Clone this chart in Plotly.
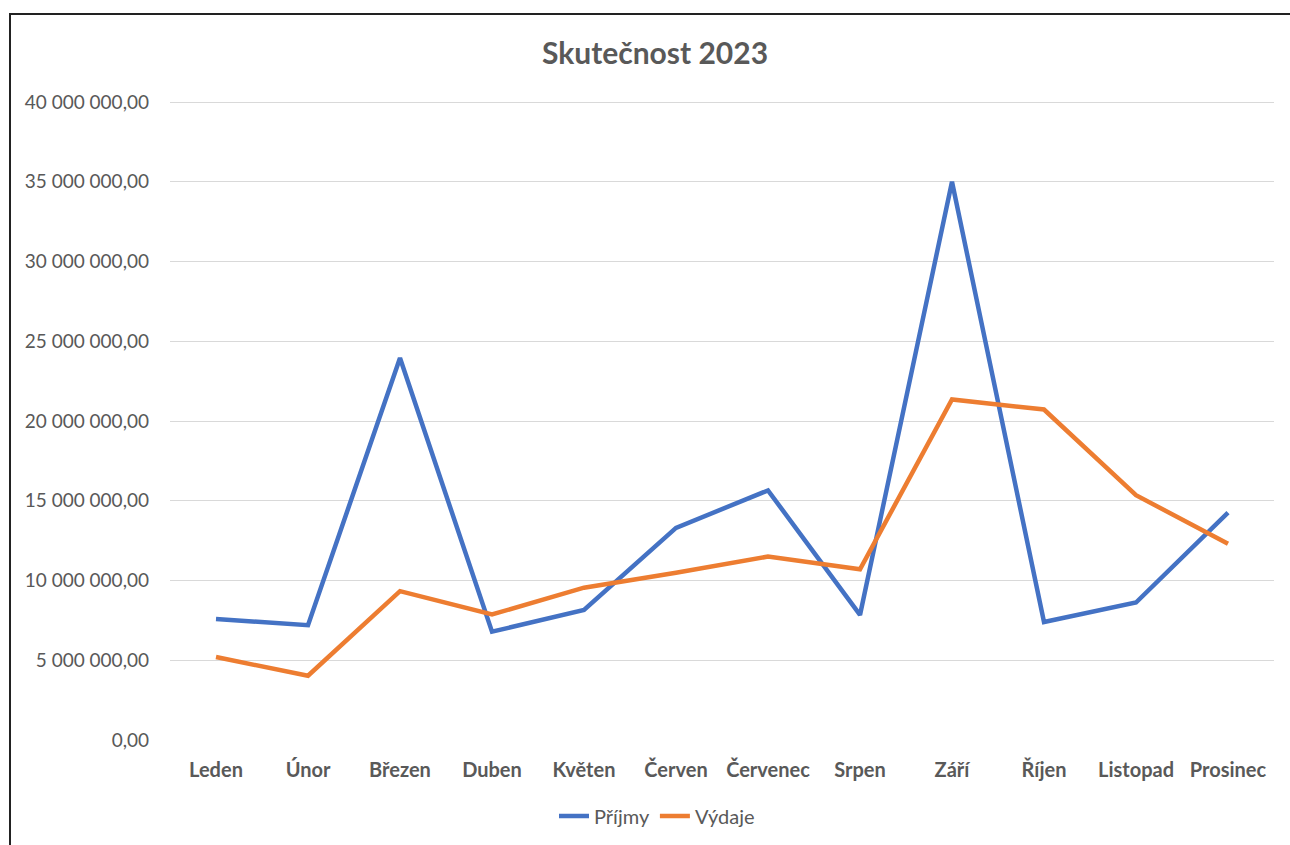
import plotly.graph_objects as go

months = ["Leden", "Únor", "Březen", "Duben", "Květen", "Červen", "Červenec",
          "Srpen", "Září", "Říjen", "Listopad", "Prosinec"]
prijmy = [7.58e6, 7.2e6, 23.95e6, 6.79e6, 8.15e6, 13.3e6, 15.65e6,
          7.84e6, 35.0e6, 7.4e6, 8.62e6, 14.25e6]
vydaje = [5.2e6, 4.03e6, 9.33e6, 7.87e6, 9.55e6, 10.48e6, 11.5e6,
          10.7e6, 21.35e6, 20.72e6, 15.35e6, 12.3e6]
y_ticks = [0, 5e6, 10e6, 15e6, 20e6, 25e6, 30e6, 35e6, 40e6]

W, H = 1290, 845
L, R, T, B = 170, 16, 100, 105
pw, ph = W - L - R, H - T - B

FONT = "Lato"
GRAY = "#595959"

fig = go.Figure()
fig.add_trace(go.Scatter(x=months, y=prijmy, mode="lines", name="Příjmy",
                         line=dict(color="#4472C4", width=4.5)))
fig.add_trace(go.Scatter(x=months, y=vydaje, mode="lines", name="Výdaje",
                         line=dict(color="#ED7D31", width=4.5)))

def px_x(p):
    return (p - L) / pw

def px_y(p):
    return (H - B - p) / ph

fig.add_shape(type="rect", xref="paper", yref="paper",
              x0=px_x(10), x1=px_x(1300), y0=px_y(860), y1=px_y(14),
              line=dict(color="#222222", width=2), fillcolor="rgba(0,0,0,0)")

fig.update_layout(
    width=W, height=H,
    margin=dict(l=L, r=R, t=T, b=B, autoexpand=False),
    paper_bgcolor="white", plot_bgcolor="white",
    separators=", ",
    font=dict(family=FONT, color=GRAY, size=19),
    title=dict(text="<b>Skutečnost 2023</b>", x=655 / W, xanchor="center",
               y=1 - 53 / H, yanchor="middle",
               font=dict(family=FONT, size=30, color=GRAY)),
    showlegend=True,
    legend=dict(orientation="h", x=657 / W, xanchor="center", xref="container",
                y=1 - 816 / H, yanchor="middle", yref="container",
                font=dict(family=FONT, size=20, color=GRAY),
                itemwidth=30, traceorder="normal"),
    xaxis=dict(showgrid=False, zeroline=False, showline=False,
               ticks="", tickfont=dict(family=FONT, size=20, color=GRAY, weight="bold"),
               ticklabelstandoff=16, range=[-0.5, 11.5]),
    yaxis=dict(range=[0, 40e6 * ph / (ph - 2)], tickvals=y_ticks, tickformat=",.2f",
               showgrid=True, gridcolor="#d9d9d9", gridwidth=1.3,
               zeroline=False, showline=False, ticks="",
               ticklabelstandoff=20,
               tickfont=dict(family=FONT, size=19, color=GRAY)),
)

fig.write_html("out.html", config={"displayModeBar": False},
               post_script="document.body.style.margin='0';")
